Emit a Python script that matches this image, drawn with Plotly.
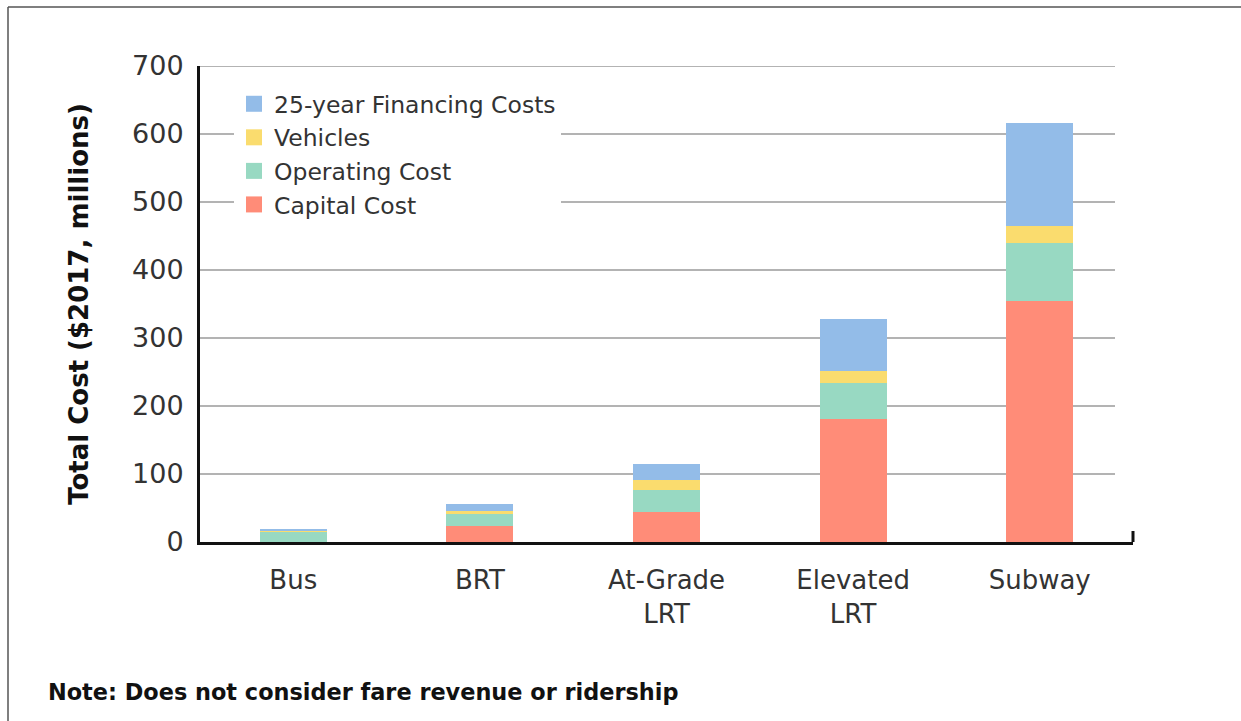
import plotly.graph_objects as go

# ---------------- data ----------------
categories = ["Bus", "BRT", "At-Grade<br>LRT", "Elevated<br>LRT", "Subway"]
capital_cost = [0, 23, 44, 181, 355]
operating_cost = [14, 18, 32, 53, 85]
vehicles = [3, 4, 15, 18, 24]
financing_costs = [1, 11, 23, 76, 152]
y_ticks = [0, 100, 200, 300, 400, 500, 600, 700]

series_names = ["Capital Cost", "Operating Cost", "Vehicles", "25-year Financing Costs"]
series_values = [capital_cost, operating_cost, vehicles, financing_costs]
series_colors = ["#FF8C78", "#98D9C2", "#FADC6E", "#93BCE8"]

# ---------------- layout geometry ----------------
W, H = 1241, 721
ML, MR, MT, MB = 200, 108, 66, 179
PW, PH = W - ML - MR, H - MT - MB


def px_x(px):
    return (px - ML) / PW


def px_y(py):
    return (H - MB - py) / PH


FONT = "'DejaVu Sans', 'Open Sans', sans-serif"

fig = go.Figure()

for name, vals, col in zip(series_names, series_values, series_colors):
    fig.add_trace(go.Bar(
        x=categories, y=vals, name=name, marker=dict(color=col, line=dict(width=0)),
        width=0.36, showlegend=False,
    ))

# legend proxies (larger square swatches), top item first
for name, col in reversed(list(zip(series_names, series_colors))):
    fig.add_trace(go.Scatter(
        x=[None], y=[None], mode="markers", name=name,
        marker=dict(symbol="square", size=16, color=col), showlegend=True,
    ))

shapes = []
# gridlines (stop short of the axis end)
for t in y_ticks[1:]:
    shapes.append(dict(type="line", xref="x domain", yref="y",
                       x0=0, x1=px_x(1115), y0=t, y1=t,
                       line=dict(color="#9a9a9a", width=1.5), layer="below"))
# small upturn at the right end of the x axis
shapes.append(dict(type="line", xref="paper", yref="paper",
                   x0=1, x1=1, y0=0, y1=px_y(531),
                   line=dict(color="#111", width=3)))
# frame lines
shapes.append(dict(type="line", xref="paper", yref="paper",
                   x0=px_x(8), x1=px_x(1241), y0=px_y(7), y1=px_y(7),
                   line=dict(color="#555", width=1.5)))
shapes.append(dict(type="line", xref="paper", yref="paper",
                   x0=px_x(8), x1=px_x(8), y0=px_y(7), y1=px_y(721),
                   line=dict(color="#555", width=1.5)))

fig.update_layout(
    width=W, height=H, autosize=False,
    margin=dict(l=ML, r=MR, t=MT, b=MB, pad=0),
    paper_bgcolor="white", plot_bgcolor="white",
    barmode="stack", bargap=0.64,
    font=dict(family=FONT, color="#333"),
    showlegend=True,
    legend=dict(
        x=px_x(234), y=px_y(82), xanchor="left", yanchor="top",
        bgcolor="white", borderwidth=0, traceorder="normal",
        font=dict(family=FONT, size=23.5, color="#333"),
        itemclick=False, itemdoubleclick=False,
    ),
    xaxis=dict(
        type="category", showgrid=False, zeroline=False,
        showline=True, linecolor="#111", linewidth=3,
        ticks="", tickfont=dict(family=FONT, size=26, color="#333"),
        ticklabelstandoff=13,
    ),
    yaxis=dict(
        range=[0, 700], tickvals=y_ticks, showgrid=False, zeroline=False,
        showline=True, linecolor="#111", linewidth=3, ticks="",
        tickfont=dict(family=FONT, size=27, color="#333"),
        ticklabelstandoff=8,
        title=dict(text="<b>Total Cost ($2017, millions)</b>",
                   font=dict(family=FONT, size=26, color="#111"), standoff=36),
    ),
    shapes=shapes,
    annotations=[dict(
        text="<b>Note: Does not consider fare revenue or ridership</b>",
        xref="paper", yref="paper", x=px_x(46), y=px_y(692),
        xanchor="left", yanchor="middle", showarrow=False,
        font=dict(family=FONT, size=22.4, color="#111"),
    )],
)

fig.write_html("out.html", config={"displayModeBar": False},
               post_script="document.body.style.margin='0px';")
